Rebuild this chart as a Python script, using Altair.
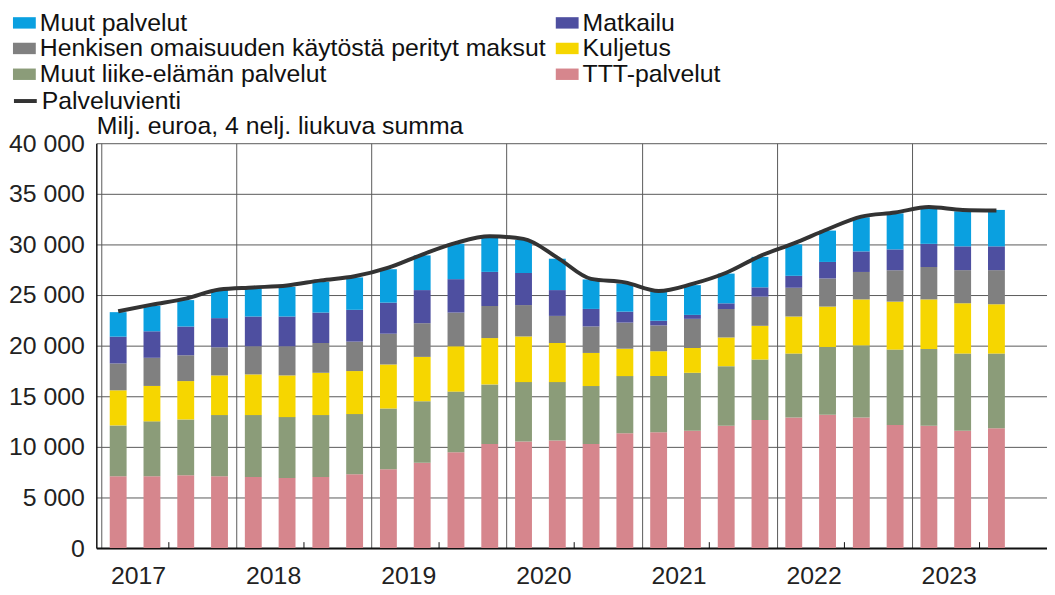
import json
import altair as alt
import pandas as pd

YEARS = ["2017", "2018", "2019", "2020", "2021", "2022", "2023"]
QUARTERS = [f"{y}Q{q}" for y in YEARS for q in (1, 2, 3, 4)][:27]

# Milj. euroa, 4 nelj. liukuva summa (stack bottom -> top)
TTT = [7090, 7090, 7190, 7090, 7030, 6930, 7030, 7290, 7780, 8430, 9480, 10290, 10520, 10620,
       10290, 11340, 11440, 11600, 12090, 12650, 12910, 13170, 12910, 12160, 12090, 11600, 11830]
MUUT_LIIKE = [5030, 5430, 5520, 6050, 6110, 6010, 6110, 5950, 6010, 6080, 5980, 5880, 5880, 5780,
              5720, 5650, 5560, 5720, 5880, 5980, 6310, 6700, 7120, 7450, 7580, 7620, 7390]
KULJETUS = [3470, 3500, 3790, 3920, 4020, 4120, 4180, 4250, 4350, 4380, 4480, 4580, 4510, 3860,
            3270, 2710, 2450, 2450, 2840, 3330, 3660, 3990, 4540, 4740, 4900, 4970, 4870]
HENKISEN = [2650, 2780, 2550, 2780, 2780, 2880, 2940, 2910, 3040, 3330, 3330, 3170, 3100, 2680,
            2620, 2580, 2550, 2880, 2810, 2880, 2840, 2780, 2710, 3100, 3200, 3270, 3370]
MATKAILU = [2650, 2620, 2840, 2880, 2940, 2940, 3010, 3140, 3070, 3270, 3300, 3370, 3170, 2550,
            1730, 1080, 460, 390, 560, 920, 1180, 1630, 2030, 2060, 2290, 2350, 2350]
MUUT_PALV = [2420, 2520, 2610, 2780, 2780, 2940, 3040, 3200, 3300, 3430, 3500, 3370, 3270, 3100,
             2910, 2780, 2880, 2940, 2940, 3010, 3100, 3100, 3370, 3560, 3530, 3460, 3600]
PALVELUVIENTI = [23400, 24050, 24650, 25550, 25750, 25950, 26450, 26850, 27700, 29000, 30150,
                 30800, 30550, 28700, 26600, 26250, 25400, 26100, 27200, 28850, 30100, 31500,
                 32750, 33150, 33700, 33400, 33350]

STACK = [
    ("TTT-palvelut", TTT),
    ("Muut liike-elämän palvelut", MUUT_LIIKE),
    ("Kuljetus", KULJETUS),
    ("Henkisen omaisuuden käytöstä perityt maksut", HENKISEN),
    ("Matkailu", MATKAILU),
    ("Muut palvelut", MUUT_PALV),
]
# legend fills column by column
LEGEND_ORDER = ["Muut palvelut", "Henkisen omaisuuden käytöstä perityt maksut",
                "Muut liike-elämän palvelut", "Matkailu", "Kuljetus", "TTT-palvelut"]
LEGEND_COLORS = ["#0aa0e0", "#808080", "#8b9c79", "#4e4fa0", "#f6d600", "#d6868d"]
Y_TICKS = [0, 5000, 10000, 15000, 20000, 25000, 30000, 35000, 40000]
SUBTITLE = "Milj. euroa, 4 nelj. liukuva summa"

FONT = "Liberation Sans"

rows = []
for qi, q in enumerate(QUARTERS):
    for si, (name, vals) in enumerate(STACK):
        rows.append({"quarter": q, "pos": qi + 0.5, "series": name, "value": vals[qi], "order": si})
bar_df = pd.DataFrame(rows)

line_df = pd.DataFrame({"quarter": QUARTERS, "pos": [i + 0.5 for i in range(len(QUARTERS))],
                        "total": PALVELUVIENTI, "series": "Palveluvienti"})
tick_df = pd.DataFrame({"year": YEARS, "mid": [4 * i + 2 for i in range(len(YEARS))]})

xscale = alt.Scale(domain=[0, 27.85], nice=False, zero=False)
yscale = alt.Scale(domain=[0, 40000], nice=False)
year_labels = json.dumps(YEARS).replace('"', "'")

bars = alt.Chart(bar_df).mark_bar(width=17).encode(
    x=alt.X("pos:Q", scale=xscale, title=None,
            axis=alt.Axis(values=[4 * i for i in range(len(YEARS))], grid=True, gridColor="#5a5a5a",
                          gridWidth=1, ticks=False, domain=True, domainColor="#111", domainWidth=2,
                          labelExpr=f"{year_labels}[datum.value/4]", labelOffset=37,
                          labelPadding=16, labelFontSize=25, labelFont=FONT, labelColor="#222",
                          labelFlush=False, labelOverlap=False, labelBound=False)),
    y=alt.Y("value:Q", stack="zero", scale=yscale,
            axis=alt.Axis(values=Y_TICKS, grid=True, gridColor="#5a5a5a", gridWidth=1, ticks=False,
                          domain=True, domainColor="#111", domainWidth=1.5,
                          labelExpr="replace(format(datum.value, ','), ',', ' ')",
                          labelPadding=12, labelFontSize=25, labelFont=FONT, labelColor="#222",
                          title=SUBTITLE, titleAngle=0, titleX=0, titleY=-5,
                          titleAlign="left", titleBaseline="bottom", titleFont=FONT,
                          titleFontSize=25, titleFontWeight="normal", titleColor="#111")),
    color=alt.Color("series:N", scale=alt.Scale(domain=LEGEND_ORDER, range=LEGEND_COLORS),
                    legend=alt.Legend(orient="none", legendX=-85, legendY=-134, columns=2,
                                      columnPadding=9, rowPadding=0, title=None,
                                      labelFontSize=25, labelFont=FONT, labelColor="#111",
                                      labelLimit=1000, labelOffset=3,
                                      symbolType="M-1,-0.5H1V0.5H-1Z", symbolSize=529,
                                      symbolStrokeWidth=0, symbolOpacity=1)),
    order=alt.Order("order:Q", sort="ascending"),
)

line = alt.Chart(line_df).mark_line(strokeWidth=4, interpolate="monotone").encode(
    x=alt.X("pos:Q", scale=xscale),
    y=alt.Y("total:Q", scale=yscale),
    stroke=alt.Stroke("series:N", scale=alt.Scale(domain=["Palveluvienti"], range=["#333333"]),
                      legend=alt.Legend(orient="none", legendX=-85, legendY=-56, title=None,
                                        labelFontSize=25, labelFont=FONT, labelColor="#111",
                                        labelOffset=3, symbolType="stroke", symbolSize=529,
                                        symbolStrokeWidth=4)),
)

ticks = alt.Chart(tick_df).mark_rule(color="#111", strokeWidth=1).encode(
    x=alt.X("mid:Q", scale=xscale),
    y=alt.value(408),
    y2=alt.value(402),
)

chart = alt.layer(bars, line, ticks).properties(
    width=958,
    height=408,
    autosize=alt.AutoSizeParams(type="none"),
    padding={"left": 89, "top": 134, "right": 0, "bottom": 44},
).configure_view(stroke="transparent")

chart.save("out.html", embed_options={"renderer": "svg", "actions": False})
